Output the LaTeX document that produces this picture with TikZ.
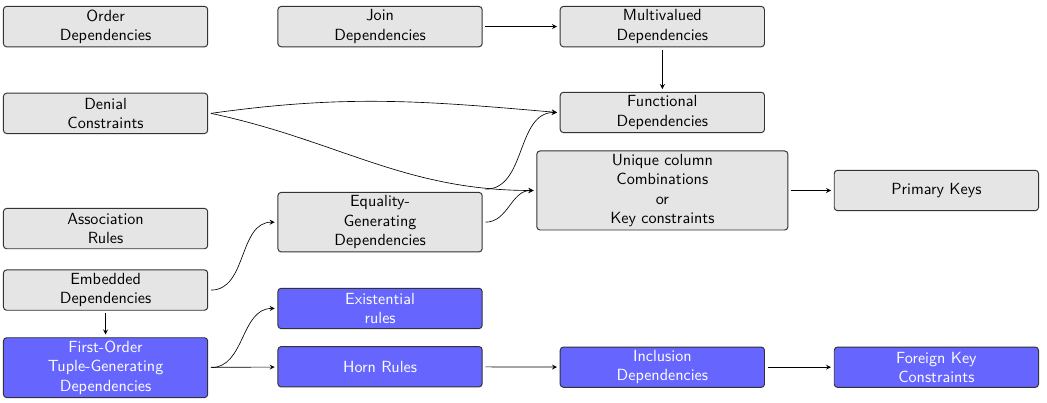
\documentclass[tikz,border=0pt]{standalone}
\usepackage{tikz}
\usetikzlibrary{arrows}

\begin{document}
\begin{tikzpicture}[>=stealth,
  dep/.style={draw=black!80, semithick, rounded corners=2pt, fill=gray!20,
    font=\sffamily, align=center, inner sep=2pt, outer sep=2pt,
    minimum width=4.45cm, minimum height=25pt},
  tgd/.style={dep, fill=blue!60, text=white}]
  \useasboundingbox (0,0) rectangle (22.81,-8.76);

  % First column
  \node[dep] (order)    at (2.30,-0.58) {Order\\Dependencies};
  \node[dep] (denial)   at (2.30,-2.47) {Denial\\Constraints};
  \node[dep] (assoc)    at (2.30,-4.98) {Association\\Rules};
  \node[dep] (embedded) at (2.30,-6.32) {Embedded\\Dependencies};
  \node[tgd] (fotgd)    at (2.30,-8.01) {First-Order\\Tuple-Generating\\Dependencies};

  % Second column
  \node[dep] (join)  at (8.28,-0.58) {Join\\Dependencies};
  \node[dep] (egd)   at (8.28,-4.84) {Equality-\\Generating\\Dependencies};
  \node[tgd] (exist) at (8.28,-6.72) {Existential\\rules};
  \node[tgd] (horn)  at (8.28,-7.99) {Horn Rules};

  % Third column
  \node[dep] (mvd) at (14.43,-0.58) {Multivalued\\Dependencies};
  \node[dep] (fd)  at (14.43,-2.45) {Functional\\Dependencies};
  \node[dep, minimum width=5.47cm] (ucc) at (14.43,-4.15)
    {Unique column\\Combinations\\or\\Key constraints};
  \node[tgd] (ind) at (14.43,-8.00) {Inclusion\\Dependencies};

  % Fourth column
  \node[dep] (pk) at (20.40,-4.15) {Primary Keys};
  \node[tgd] (fk) at (20.40,-8.00) {Foreign Key\\Constraints};

  % Straight arrows
  \draw[->] (join) -- (mvd);
  \draw[->] (mvd) -- (fd);
  \draw[->] (ucc) -- (pk);
  \draw[->] (embedded) -- (fotgd);
  \draw[->] (fotgd) -- (horn);
  \draw[->] (horn) -- (ind);
  \draw[->] (ind) -- (fk);

  % Curved arrows
  \draw[->] (denial.east) to[out=8,in=175] (fd.west);
  \draw[->] (denial.east) to[out=-12,in=180] (ucc.west);
  \draw[->] (egd.north east) to[out=0,in=180] (fd.west);
  \draw[->] (egd.east) to[out=0,in=180] (ucc.west);
  \draw[->] (embedded.east) to[out=0,in=180] (egd.west);
  \draw[->] (fotgd.east) to[out=0,in=180] (exist.west);
\end{tikzpicture}
\end{document}
